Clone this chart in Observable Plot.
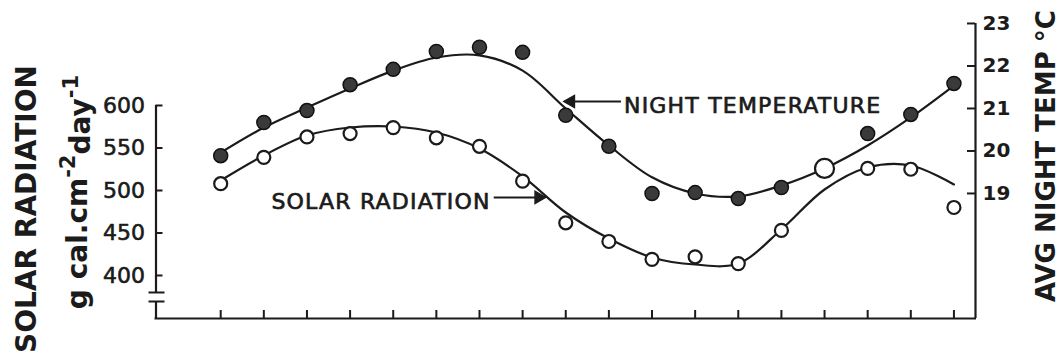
<!DOCTYPE html>
<html><head><meta charset="utf-8">
<script src="https://cdn.jsdelivr.net/npm/d3@7"></script>
<script src="https://cdn.jsdelivr.net/npm/@observablehq/plot@0.6"></script>
<style>
html,body{margin:0;padding:0;background:#fff;}
svg{display:block;}
</style></head><body><div id="chart"></div>
<script>
// ---- data ----
const periods = [0,1,2,3,4,5,6,7,8,9,10,11,12,13,14,15,16,17];
const solarRadiation = [508,539,563,567,574,562,552,511,462,440,419,422,414,453,526,526,525,480];
const nightTemp = [19.89,20.67,20.95,21.56,21.92,22.34,22.44,22.32,20.84,20.11,19.0,19.02,18.88,19.14,19.59,20.41,20.86,21.59];
const solarFit = [511.8,541.2,564.7,574.1,575.3,568.2,549.4,516.5,474.1,443.5,421.2,412.9,414.1,454.1,501.2,527.1,529.4,507.1];
const tempFit = [19.96,20.55,21.02,21.47,21.89,22.2,22.25,21.89,21.0,20.13,19.38,19.0,18.93,19.19,19.59,20.13,20.79,21.54];
const radiationTicks = [400,450,500,550,600];
const tempTicks = [19,20,21,22,23];
const seriesNames = ["NIGHT TEMPERATURE","SOLAR RADIATION"];
const labelX = [9.35, 6.26];
const labelY = [599.4, 487];
const arrowFrom = [9.28, 6.33];
const arrowTo = [8.12, 7.37];
const arrowY = [604.7, 491.8];
const axisBreak = [380, 369.4];

// temperature expressed on the radiation scale (right axis)
const tempToRad = t => 496.5 + (t - 19) * 50;

const W = 1063, H = 360;
const mL = 155.5, mR = 88, mT = 20, mB = 42;
const fw = W - mL - mR, fh = H - mT - mB;
const xDom = [-1.5, 17.5], yDom = [349.4, 700];
const ink = "#1b1b1b";
const font = "DejaVu Sans";

const pts = periods.map((p, i) => ({
  p, solar: solarRadiation[i], temp: tempToRad(nightTemp[i]),
  sFit: solarFit[i], tFit: tempToRad(tempFit[i])
}));
pts.forEach(d => d.overlap = Math.abs(d.solar - d.temp) < 2);

const labels = seriesNames.map((s, i) => ({s, x: labelX[i], y: labelY[i], x1: arrowFrom[i], x2: arrowTo[i], ay: arrowY[i]}));

const chart = Plot.plot({
  width: W, height: H,
  marginLeft: mL, marginRight: mR, marginTop: mT, marginBottom: mB,
  x: {domain: xDom, axis: null},
  y: {domain: yDom, axis: null},
  r: {type: "identity"},
  style: {background: "#fff", fontFamily: font, color: ink},
  marks: [
    // bottom axis line
    Plot.ruleY([yDom[0]], {stroke: ink, strokeWidth: 2.2, insetLeft: -1, insetRight: -1}),
    // right axis line
    Plot.ruleX([xDom[1]], {y1: yDom[0], y2: tempToRad(tempTicks[tempTicks.length - 1]), stroke: ink, strokeWidth: 2.2}),
    // left axis (with break)
    Plot.ruleX([xDom[0]], {y1: radiationTicks[radiationTicks.length - 1], y2: axisBreak[0], stroke: ink, strokeWidth: 2.2}),
    Plot.ruleX([xDom[0]], {y1: axisBreak[1], y2: yDom[0], stroke: ink, strokeWidth: 2.2}),
    Plot.tickY(axisBreak, {y: d => d, stroke: ink, strokeWidth: 2, insetLeft: -7, insetRight: fw - 9}),
    // left ticks (inside)
    Plot.tickY(radiationTicks, {y: d => d, stroke: ink, strokeWidth: 2, insetRight: fw - 7}),
    // right ticks (inside)
    Plot.tickY(tempTicks, {y: t => tempToRad(t), stroke: ink, strokeWidth: 2, insetLeft: fw - 8}),
    // bottom ticks (inside)
    Plot.tickX(periods, {x: d => d, stroke: ink, strokeWidth: 2, insetTop: fh - 8}),
    // tick labels
    Plot.text(radiationTicks, {y: d => d, text: d => String(d), frameAnchor: "left", textAnchor: "end", dx: -11, fontSize: 22, fill: ink, stroke: ink, strokeWidth: 0.6}),
    Plot.text(tempTicks, {y: t => tempToRad(t), text: d => String(d), frameAnchor: "right", textAnchor: "start", dx: 7, fontSize: 20, fontWeight: "bold", fill: ink}),
    // fitted curves
    Plot.line(pts, {x: "p", y: "tFit", curve: "catmull-rom", stroke: ink, strokeWidth: 2.2}),
    Plot.line(pts, {x: "p", y: "sFit", curve: "catmull-rom", stroke: ink, strokeWidth: 2.2}),
    // observations
    Plot.dot(pts.filter(d => !d.overlap), {x: "p", y: "temp", r: 7, fill: "#3a3a3a", stroke: "#111", strokeWidth: 1.5}),
    Plot.dot(pts, {x: "p", y: "solar", r: d => d.overlap ? 9.5 : 6.5, fill: "#fff", stroke: ink, strokeWidth: 2.2}),
    // annotations
    Plot.link(labels, {x1: "x1", x2: "x2", y1: "ay", y2: "ay", stroke: ink, strokeWidth: 2}),
    Plot.dot(labels, {x: "x2", y: "ay", symbol: "triangle", r: 4.5, rotate: d => d.x2 < d.x1 ? -90 : 90, fill: ink, stroke: ink}),
    Plot.text(labels.filter(d => d.x2 < d.x1), {x: "x", y: "y", text: "s", textAnchor: "start", fontSize: 22, fill: ink, stroke: ink, strokeWidth: 0.7}),
    Plot.text(labels.filter(d => d.x2 > d.x1), {x: "x", y: "y", text: "s", textAnchor: "end", fontSize: 22, fill: ink, stroke: ink, strokeWidth: 0.7})
  ]
});

const svg = d3.select(chart);
svg.selectAll("text").filter(function(){ return seriesNames.includes(this.textContent); })
  .attr("letter-spacing", "1.2");

// axis titles
svg.append("text")
  .attr("transform", "translate(26,209) rotate(-90)")
  .attr("text-anchor", "middle").attr("dominant-baseline", "central")
  .attr("font-family", font).attr("font-weight", "bold").attr("font-size", 28).attr("fill", ink)
  .text("SOLAR RADIATION");
const u = svg.append("text")
  .attr("transform", "translate(77,192) rotate(-90)")
  .attr("text-anchor", "middle").attr("dominant-baseline", "central")
  .attr("font-family", font).attr("font-weight", "bold").attr("font-size", 28).attr("fill", ink);
u.append("tspan").text("g cal.cm");
u.append("tspan").attr("dy", "-0.45em").attr("font-size", 21).text("-2");
u.append("tspan").attr("dy", "0.45em").text("day");
u.append("tspan").attr("dy", "-0.45em").attr("font-size", 21).text("-1");
svg.append("text")
  .attr("transform", "translate(1046,156) rotate(-90)")
  .attr("text-anchor", "middle").attr("dominant-baseline", "central")
  .attr("font-family", font).attr("font-weight", "bold").attr("font-size", 26).attr("fill", ink)
  .text("AVG NIGHT TEMP \u00B0C");

document.getElementById("chart").appendChild(chart);
</script></body></html>
